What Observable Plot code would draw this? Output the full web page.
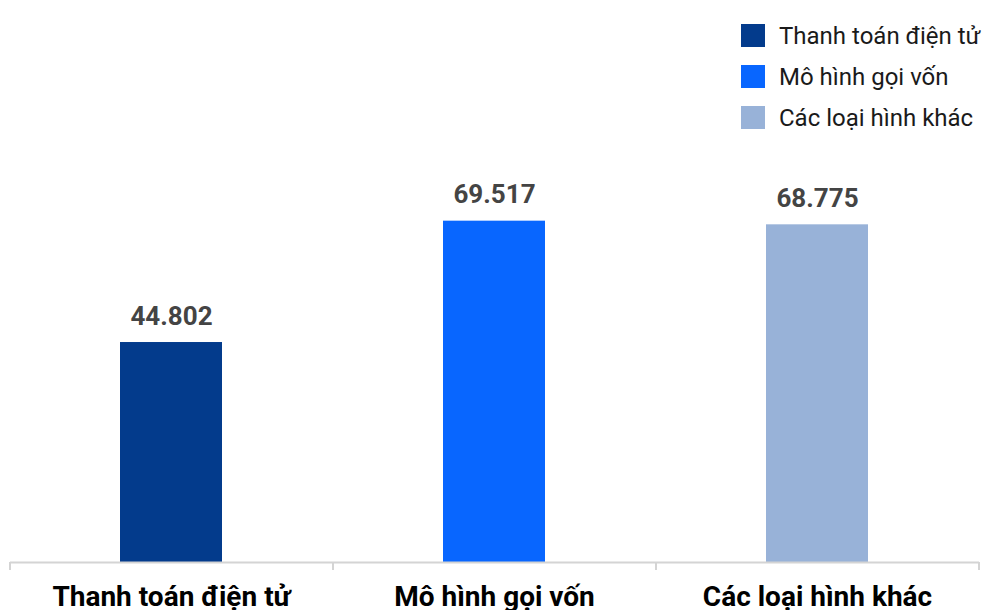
<!DOCTYPE html>
<html>
<head>
<meta charset="utf-8">
<script src="https://cdn.jsdelivr.net/npm/d3@7"></script>
<script src="https://cdn.jsdelivr.net/npm/@observablehq/plot@0.6"></script>
<style>
  body { margin: 0; background: #fff; font-family: Roboto, sans-serif; }
  #wrap { position: relative; width: 982px; height: 610px; overflow: hidden; }
  #legend { position: absolute; left: 741px; top: 24px; }
  .row { display: flex; align-items: center; height: 23px; margin-bottom: 18px; }
  .sw { width: 24px; height: 23px; margin-right: 14px; }
  .lb { font-size: 24px; color: #1a1a1a; white-space: nowrap; }
</style>
</head>
<body>
<div id="wrap"><div id="legend"></div></div>
<script>
const categories = ["Thanh toán điện tử", "Mô hình gọi vốn", "Các loại hình khác"];
const values = [44.802, 69.517, 68.775];
const colors = ["#033b8c", "#0866ff", "#98b2d8"];

const data = categories.map((c, i) => ({category: c, value: values[i]}));
const fmt = v => v.toFixed(3);
const step = (982 - 10 - 3) / categories.length;

const chart = Plot.plot({
  width: 982,
  height: 610,
  marginLeft: 10,
  marginRight: 3,
  marginTop: 71,
  marginBottom: 48,
  style: {fontFamily: "Roboto, sans-serif", background: "transparent"},
  x: {domain: categories, paddingInner: 0.684, paddingOuter: 0.342, axis: null, label: null},
  y: {domain: [0, 100], axis: null},
  color: {domain: categories, range: colors},
  marks: [
    Plot.barY(data, {x: "category", y: "value", fill: "category"}),
    Plot.text(data, {x: "category", y: "value", text: d => fmt(d.value), dy: -18, lineAnchor: "bottom",
      fontSize: 26, fontWeight: "bold", fill: "#444"}),
    Plot.ruleY([0], {stroke: "#d4d4d4", strokeWidth: 2}),
    Plot.axisX({tickSize: 8, tickFormat: () => "", label: null, dx: -step / 2, stroke: "#d4d4d4", strokeWidth: 2}),
    Plot.axisX({ticks: [categories[categories.length - 1]], tickSize: 8, tickFormat: () => "", label: null, dx: step / 2, stroke: "#d4d4d4", strokeWidth: 2}),
    Plot.axisX({tickSize: 0, tickPadding: 24, label: null, fontSize: 28, fontWeight: "bold", fill: "#000"})
  ]
});
document.getElementById("wrap").prepend(chart);

const legend = document.getElementById("legend");
categories.forEach((c, i) => {
  const row = document.createElement("div");
  row.className = "row";
  row.innerHTML = `<div class="sw" style="background:${colors[i]}"></div><div class="lb">${c}</div>`;
  legend.appendChild(row);
});
</script>
</body>
</html>
